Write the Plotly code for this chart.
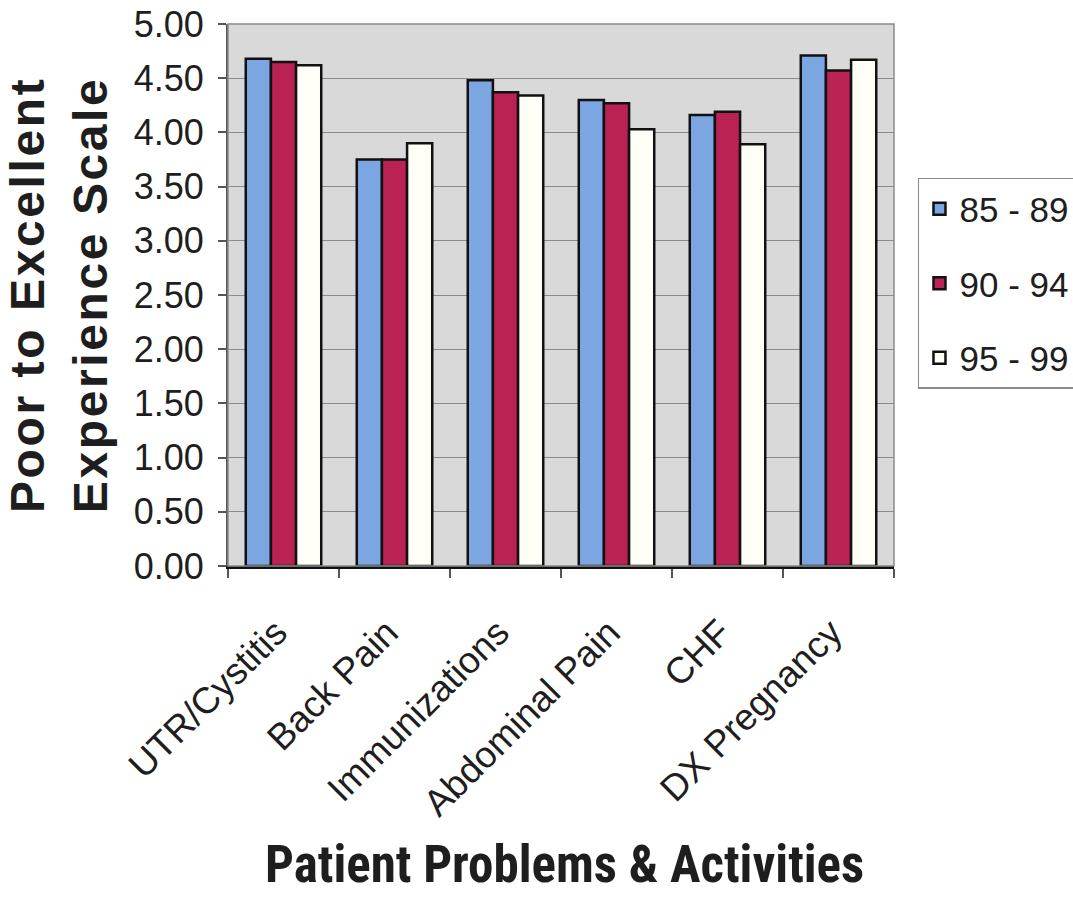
import plotly.graph_objects as go

# Categories and mean ratings per period
categories = ["UTR/Cystitis", "Back Pain", "Immunizations", "Abdominal Pain", "CHF", "DX Pregnancy"]
period_names = ["85 - 89", "90 - 94", "95 - 99"]
ratings_85_89 = [4.68, 3.75, 4.48, 4.30, 4.16, 4.71]
ratings_90_94 = [4.65, 3.75, 4.37, 4.27, 4.19, 4.57]
ratings_95_99 = [4.62, 3.90, 4.34, 4.03, 3.89, 4.67]
y_tick_values = [0, 0.5, 1, 1.5, 2, 2.5, 3, 3.5, 4, 4.5, 5]

bar_colors = ["#7ba6e2", "#bb2254", "#fffff8"]
series = [ratings_85_89, ratings_90_94, ratings_95_99]

fig = go.Figure()
for i, (name, vals) in enumerate(zip(period_names, series)):
    fig.add_trace(go.Bar(
        x=categories, y=vals, name=name,
        legendgroup=name,
        marker=dict(color=bar_colors[i], line=dict(color="#111111", width=2.5)),
    ))

# a trailing no-break space nudges the slanted labels slightly left of each tick
tick_labels = [c + "\u00a0" for c in categories]

TXT = "#1e1e1e"
fig.update_layout(
    width=1073, height=912,
    margin=dict(l=228, r=179, t=24, b=346, autoexpand=False),
    paper_bgcolor="white",
    plot_bgcolor="#d9d9d9",
    barmode="group",
    bargap=0.32,
    bargroupgap=0,
    font=dict(family="Arial, Liberation Sans, sans-serif", size=35, color=TXT),
    showlegend=True,
    legend=dict(
        x=1.036, y=0.716, xanchor="left", yanchor="top",
        bordercolor="#8a8a8a", borderwidth=1.5,
        bgcolor="white",
        font=dict(size=35, color=TXT),
        tracegroupgap=26,
        itemwidth=30,
    ),
    xaxis=dict(
        type="category",
        tickmode="array", tickvals=categories, ticktext=tick_labels,
        showgrid=False,
        showline=True, linecolor="#111111", linewidth=2.5,
        ticks="outside", tickson="boundaries", ticklen=9, tickcolor="#555555", tickwidth=1.5,
        tickangle=-45,
        tickfont=dict(size=37, color=TXT),
        ticklabelstandoff=20,
        automargin=False,
    ),
    yaxis=dict(
        range=[0, 5],
        tickvals=y_tick_values,
        tickformat=".2f",
        showgrid=True, gridcolor="#8c8c8c", gridwidth=1.2,
        showline=True, linecolor="#555555", linewidth=2,
        ticks="outside", ticklen=8, tickcolor="#555555", tickwidth=1.5,
        tickfont=dict(size=36, color=TXT),
        ticklabelstandoff=7,
        zeroline=False,
        automargin=False,
    ),
    shapes=[dict(
        type="rect", xref="paper", yref="paper", x0=0, y0=0, x1=1, y1=1,
        line=dict(color="#8a8a8a", width=1.5), layer="above",
    )],
    annotations=[
        dict(
            text="<span style='letter-spacing:2.6px'>Poor to Excellent</span><br>"
                 "<span style='letter-spacing:2.6px'>Experience Scale</span>",
            xref="paper", yref="paper", x=-0.255, y=0.5,
            xanchor="center", yanchor="middle",
            textangle=-90, showarrow=False,
            font=dict(family="Arial, Liberation Sans, sans-serif", size=48, color=TXT, weight="bold"),
        ),
        dict(
            text="Patient Problems & Activities",
            xref="paper", yref="paper", x=0.505, y=-0.55,
            xanchor="center", yanchor="middle", showarrow=False,
            font=dict(family="Roboto Condensed, Liberation Sans, sans-serif",
                      size=51, color=TXT, weight="bold"),
        ),
    ],
)

fig.write_html("out.html")
